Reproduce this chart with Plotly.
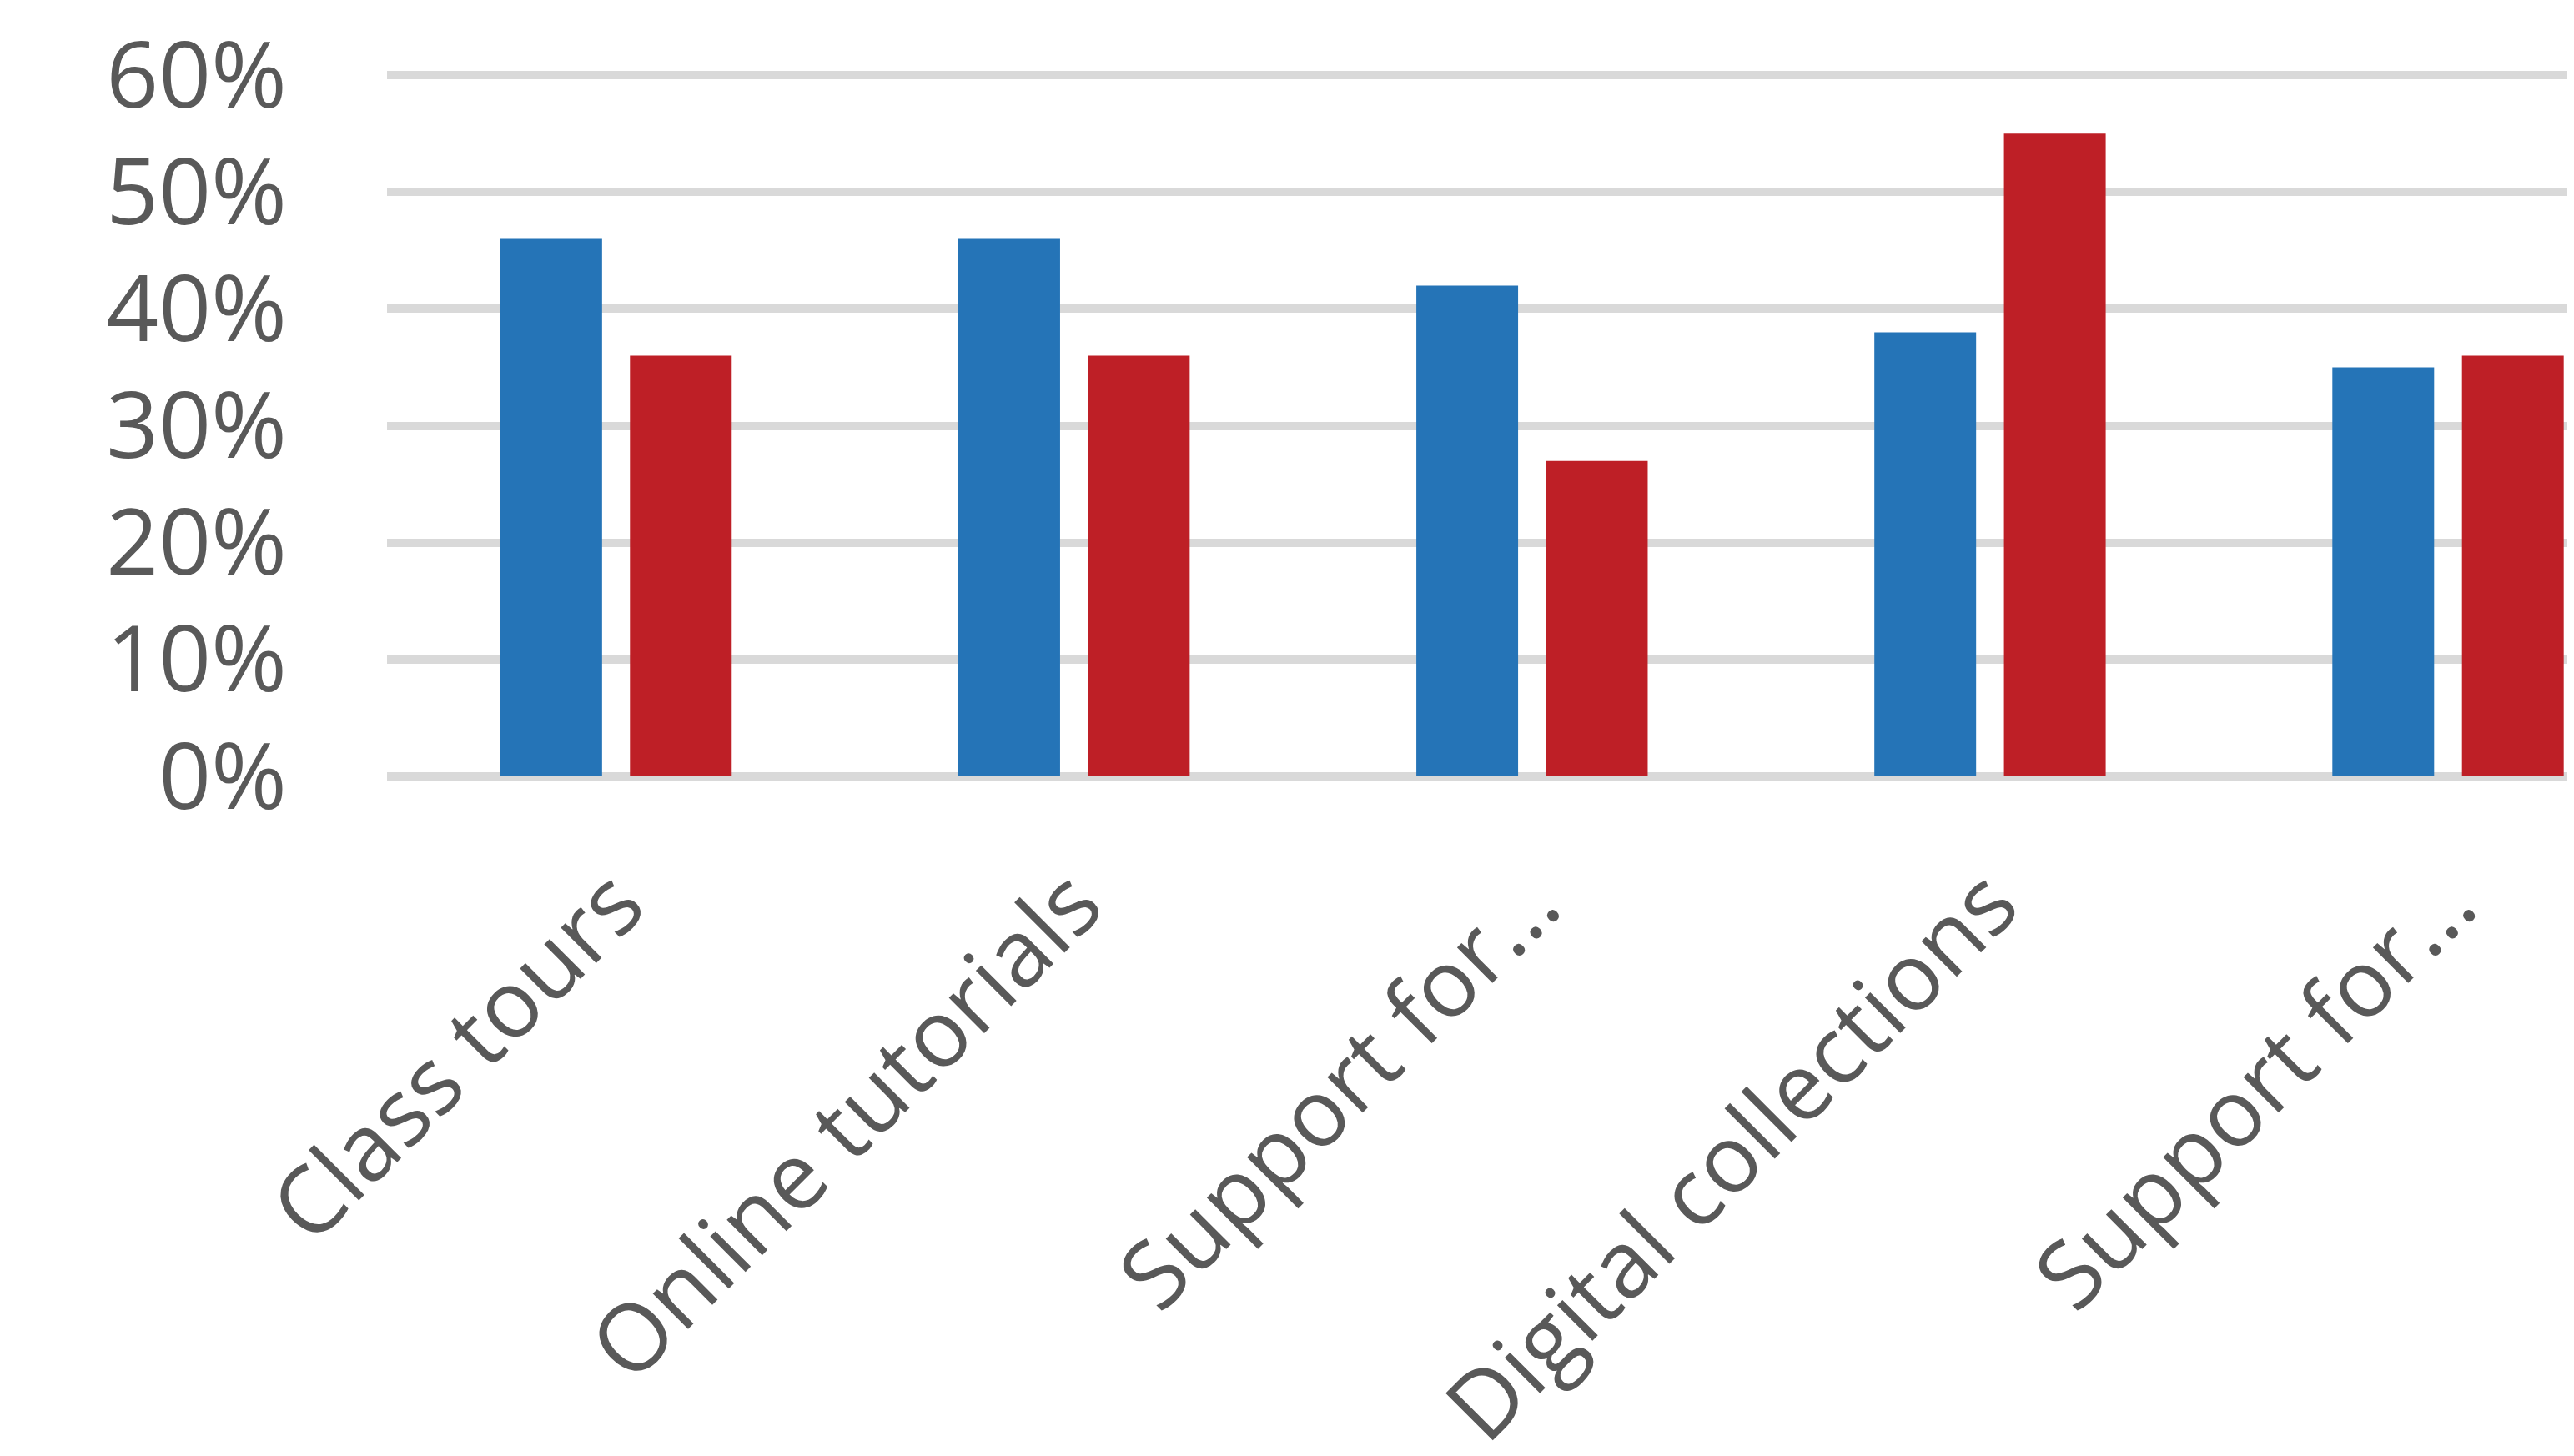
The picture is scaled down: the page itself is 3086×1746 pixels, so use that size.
import plotly.graph_objects as go

categories = ["Class tours", "Online tutorials", "Support for…", "Digital collections", "Support for…"]
series_blue = [0.46, 0.46, 0.42, 0.38, 0.35]
series_red = [0.36, 0.36, 0.27, 0.55, 0.36]
y_ticks = [0, 0.1, 0.2, 0.3, 0.4, 0.5, 0.6]
y_tick_labels = ["0%", "10%", "20%", "30%", "40%", "50%", "60%"]

W, H = 3086, 1746
FONT = "Open Sans"
TXT = "#595959"
GRID = "#D9D9D9"

xpos = list(range(len(categories)))

fig = go.Figure()
fig.add_trace(go.Bar(x=xpos, y=series_blue, marker=dict(color="#2574B7", line=dict(width=0)), name="A"))
fig.add_trace(go.Bar(x=xpos, y=series_red, marker=dict(color="#BE1F26", line=dict(width=0)), name="B"))

fig.update_layout(
    width=W, height=H,
    barmode="group", bargap=0.434, bargroupgap=0.215,
    plot_bgcolor="white", paper_bgcolor="white",
    showlegend=False,
    margin=dict(l=456, r=8, t=78, b=823, autoexpand=False),
    font=dict(family=FONT, color=TXT, size=110),
)
fig.update_xaxes(
    range=[-0.5, 4.275],
    tickmode="array", tickvals=xpos, ticktext=categories,
    tickangle=-45, showgrid=False, zeroline=False, showline=False,
    ticks="", ticklabelstandoff=64,
    tickfont=dict(family=FONT, color=TXT, size=112),
)
fig.update_yaxes(
    range=[0, 0.603],
    tickmode="array", tickvals=y_ticks, ticktext=y_tick_labels,
    showgrid=True, gridcolor=GRID, gridwidth=10,
    zeroline=True, zerolinecolor=GRID, zerolinewidth=10,
    showline=False, ticks="", ticklabelstandoff=119,
    tickfont=dict(family=FONT, color=TXT, size=110),
    layer="below traces",
)

fig.write_html("out.html")
